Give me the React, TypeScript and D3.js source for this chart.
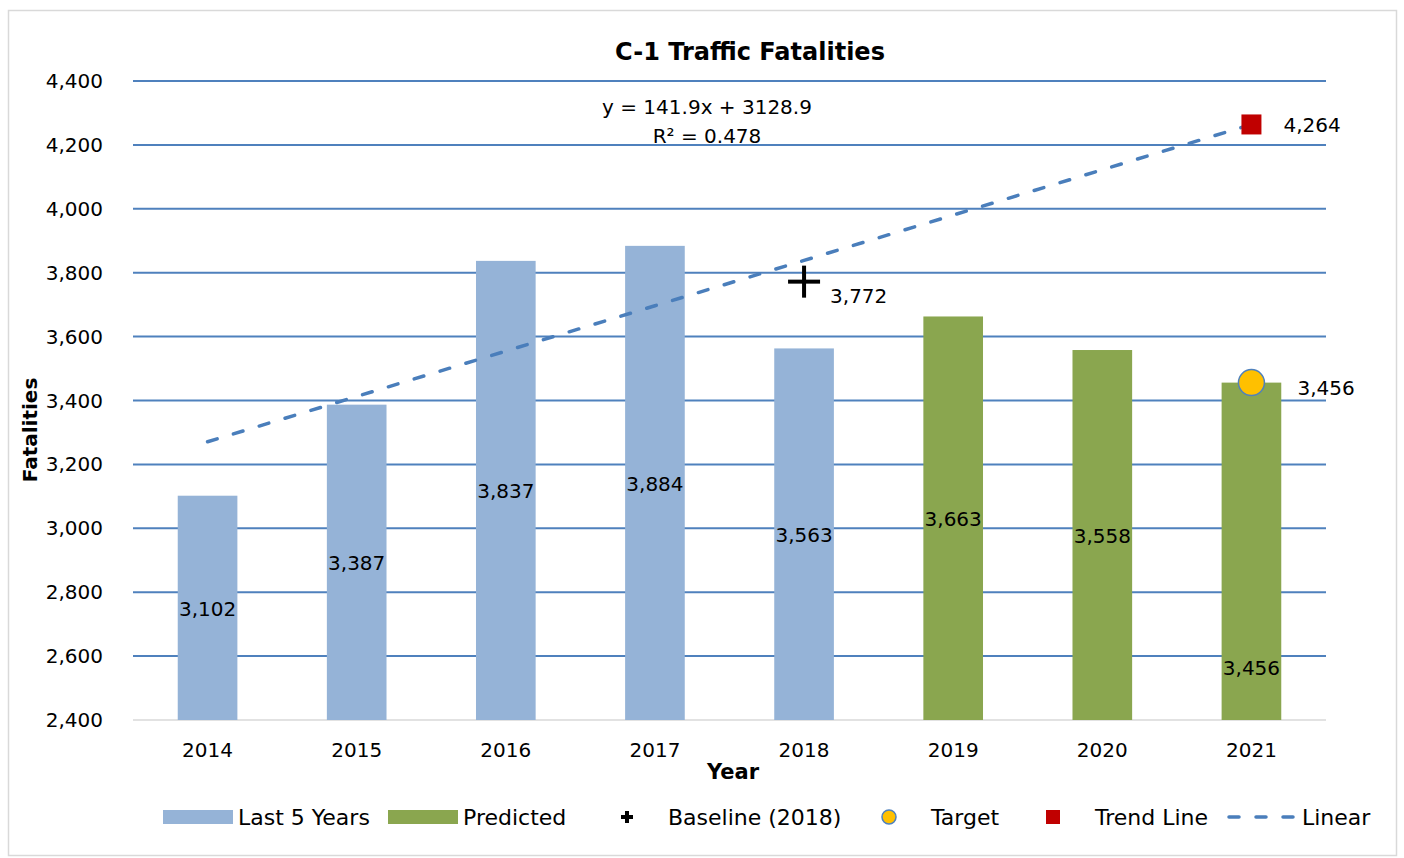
import React from "react";
import * as d3 from "d3";

const years = ["2014", "2015", "2016", "2017", "2018", "2019", "2020", "2021"];
const values = [3102, 3387, 3837, 3884, 3563, 3663, 3558, 3456];
const seriesKind = ["last5", "last5", "last5", "last5", "last5", "predicted", "predicted", "predicted"];
const yTicks = [2400, 2600, 2800, 3000, 3200, 3400, 3600, 3800, 4000, 4200, 4400];
const baselineYear = "2018";
const baselineValue = 3772;
const targetYear = "2021";
const targetValue = 3456;
const trendYear = "2021";
const trendValue = 4264;
const slope = 141.9;
const intercept = 3128.9;
const lastLabelValue = 2566; // 2021 in-bar label sits lower

const W = 1404;
const H = 858;
const M = { left: 133, right: 1326, top: 81, bottom: 720 };
const FONT = "'DejaVu Sans', sans-serif";
const BLUE = "#95B3D7";
const GREEN = "#8AA64F";
const GRID = "#4F81BD";
const fmt = d3.format(",");

export default function App() {
  const x = d3.scaleBand().domain(years).range([M.left, M.right]).paddingInner(0.6).paddingOuter(0.3);
  const y = d3.scaleLinear().domain([2400, 4400]).range([M.bottom, M.top]);
  const cx = (yr: string) => (x(yr) as number) + x.bandwidth() / 2;
  const trendPts: [number, number][] = years.map((yr, i) => [cx(yr), y(slope * (i + 1) + intercept)]);
  const line = d3.line();

  return (
    <svg width={W} height={H} style={{ position: "absolute", left: 0, top: 0, fontFamily: FONT }}>
      <rect x={0} y={0} width={W} height={H} fill="#fff" />
      <rect x={8.5} y={10.5} width={1388} height={845} fill="#fff" stroke="#D9D9D9" strokeWidth={1.5} />
      <text x={750} y={60} textAnchor="middle" fontSize={24} fontWeight="bold" fill="#000">C-1 Traffic Fatalities</text>

      {yTicks.map((t) => (
        <g key={t}>
          <line x1={M.left} x2={M.right} y1={y(t)} y2={y(t)} stroke={t === 2400 ? "#D9D9D9" : GRID} strokeWidth={t === 2400 ? 1.5 : 2} />
          <text x={103} y={y(t) + 7} textAnchor="end" fontSize={20} fill="#000">{fmt(t)}</text>
        </g>
      ))}

      {years.map((yr, i) => (
        <rect key={yr} x={x(yr)} y={y(values[i])} width={x.bandwidth()} height={y(2400) - y(values[i])}
          fill={seriesKind[i] === "last5" ? BLUE : GREEN} />
      ))}

      {years.map((yr, i) => {
        const ly = i === years.length - 1 ? y(lastLabelValue) : (y(values[i]) + y(2400)) / 2;
        return (
          <text key={"l" + yr} x={cx(yr)} y={ly + 8} textAnchor="middle" fontSize={20} fill="#000">{fmt(values[i])}</text>
        );
      })}

      {years.map((yr) => (
        <text key={"x" + yr} x={cx(yr)} y={757} textAnchor="middle" fontSize={20} fill="#000">{yr}</text>
      ))}

      <path d={line(trendPts) as string} fill="none" stroke="#4A7EBB" strokeWidth={3.5} strokeDasharray="10 17" strokeLinecap="round" />

      <text x={707} y={114} textAnchor="middle" fontSize={20} fill="#000">y = 141.9x + 3128.9</text>
      <text x={707} y={143} textAnchor="middle" fontSize={20} fill="#000">R² = 0.478</text>

      {/* Baseline plus */}
      <g transform={`translate(${cx(baselineYear)},${y(baselineValue)})`}>
        <rect x={-16} y={-2} width={32} height={4} fill="#000" />
        <rect x={-2} y={-16} width={4} height={32} fill="#000" />
      </g>
      <text x={cx(baselineYear) + 26} y={y(baselineValue) + 21} fontSize={20} fill="#000">{fmt(baselineValue)}</text>

      {/* Target */}
      <circle cx={cx(targetYear)} cy={y(targetValue)} r={13} fill="#FFC000" stroke="#4F81BD" strokeWidth={1.5} />
      <text x={cx(targetYear) + 46} y={y(targetValue) + 12} fontSize={20} fill="#000">{fmt(targetValue)}</text>

      {/* Trend point */}
      <rect x={cx(trendYear) - 10} y={y(trendValue) - 10} width={20} height={20} fill="#C00000" />
      <text x={cx(trendYear) + 32} y={y(trendValue) + 8} fontSize={20} fill="#000">{fmt(trendValue)}</text>

      {/* Axis titles */}
      <text transform={`translate(37,430) rotate(-90)`} textAnchor="middle" fontSize={20} fontWeight="bold" fill="#000">Fatalities</text>
      <text x={733} y={779} textAnchor="middle" fontSize={21} fontWeight="bold" fill="#000">Year</text>

      {/* Legend */}
      <g fontSize={22} fill="#000">
        <rect x={163} y={810} width={70} height={14} fill={BLUE} />
        <text x={238} y={825}>Last 5 Years</text>
        <rect x={388} y={810} width={70} height={14} fill={GREEN} />
        <text x={463} y={825}>Predicted</text>
        <rect x={621} y={815} width={12} height={4} fill="#000" />
        <rect x={625} y={811} width={4} height={12} fill="#000" />
        <text x={668} y={825}>Baseline (2018)</text>
        <circle cx={889} cy={817} r={7} fill="#FFC000" stroke="#4F81BD" strokeWidth={1.5} />
        <text x={931} y={825}>Target</text>
        <rect x={1046} y={810} width={14} height={14} fill="#C00000" />
        <text x={1095} y={825}>Trend Line</text>
        <line x1={1229} x2={1297} y1={817} y2={817} stroke="#4A7EBB" strokeWidth={3.5} strokeDasharray="10 17" strokeLinecap="round" />
        <text x={1302} y={825}>Linear</text>
      </g>
    </svg>
  );
}
